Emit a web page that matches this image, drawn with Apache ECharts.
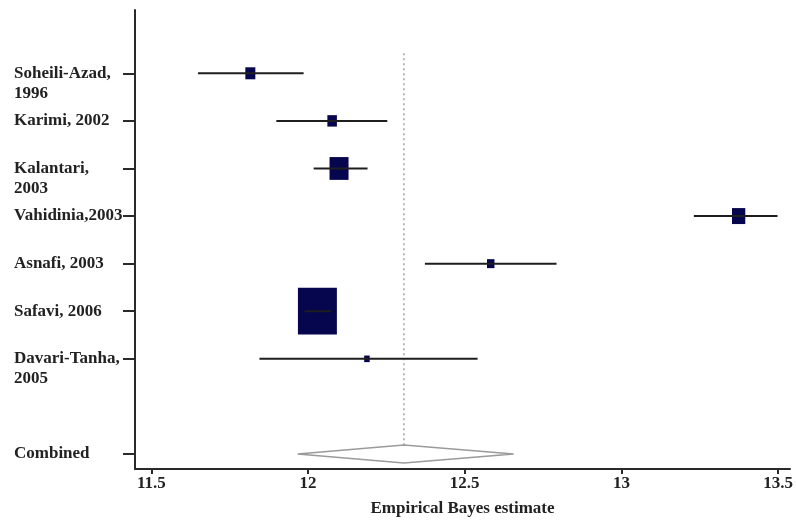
<!DOCTYPE html>
<html><head><meta charset="utf-8">
<script src="https://cdn.jsdelivr.net/npm/echarts@6/dist/echarts.min.js"></script>
<style>html,body{margin:0;padding:0;background:#fff}#c{width:796px;height:523px}</style>
</head><body><div id="c"></div>
<script>
// ---- data ----
const studies   = ['Soheili-Azad,\n1996','Karimi, 2002','Kalantari,\n2003','Vahidinia,2003','Asnafi, 2003','Safavi, 2006','Davari-Tanha,\n2005'];
const studyRows = [8, 7, 6, 5, 4, 3, 2];
const estimates = [11.816, 12.077, 12.099, 13.374, 12.583, 12.030, 12.188];
const lowerCI   = [11.649, 11.899, 12.018, 13.231, 12.373, 11.989, 11.845];
const upperCI   = [11.986, 12.253, 12.190, 13.498, 12.793, 12.073, 12.541];
const weights   = [4.3, 3.9, 15.5, 7.6, 2.4, 65.1, 1.3];
const combinedLabel = 'Combined';
const combinedRow = 0;
const combinedEstimate = 12.306;
const combinedLower = 11.967;
const combinedUpper = 12.656;
const xTicks = [11.5, 12, 12.5, 13, 13.5];
const xTitle = 'Empirical Bayes estimate';

// ---- chart ----
const FONT = 'Liberation Serif';
const rowLabels = {};
studies.forEach((s, i) => { rowLabels[studyRows[i]] = s; });
rowLabels[combinedRow] = combinedLabel;
const yTicks = Object.keys(rowLabels).map(Number);

const studyData = studies.map((s, i) => [estimates[i], lowerCI[i], upperCI[i], studyRows[i], weights[i]]);

const chart = echarts.init(document.getElementById('c'), null, {renderer: 'canvas'});
chart.setOption({
  backgroundColor: '#fff',
  animation: false,
  grid: {left: 135, right: 4, top: 10, bottom: 54, containLabel: false},
  xAxis: {
    type: 'value', min: 11.448, max: 13.538,
    splitLine: {show: false},
    axisLine: {show: true, onZero: false, lineStyle: {color: '#2a2a2a', width: 2}},
    axisTick: {show: true, customValues: xTicks, length: 5, lineStyle: {color: '#2a2a2a', width: 2}},
    axisLabel: {customValues: xTicks, margin: 6, color: '#222', fontFamily: FONT, fontWeight: 'bold', fontSize: 17},
    name: xTitle, nameLocation: 'middle', nameGap: 31, nameMoveOverlap: false,
    nameTextStyle: {color: '#222', fontFamily: FONT, fontWeight: 'bold', fontSize: 17}
  },
  yAxis: {
    type: 'value', min: -0.315, max: 9.33,
    splitLine: {show: false},
    axisLine: {show: true, onZero: false, lineStyle: {color: '#2a2a2a', width: 2}},
    axisTick: {show: true, customValues: yTicks, length: 12, lineStyle: {color: '#2a2a2a', width: 2}},
    axisLabel: {
      customValues: yTicks, margin: 121, align: 'left', verticalAlign: 'middle',
      color: '#222', fontFamily: FONT, fontWeight: 'bold', fontSize: 17, lineHeight: 20,
      formatter: v => { const t = rowLabels[v] || ''; return t.indexOf('\n') >= 0 ? ' \n' + t : t; }
    }
  },
  series: [
    {
      type: 'line', data: [[combinedEstimate, 8.42], [combinedEstimate, 0.19]],
      symbol: 'none', lineStyle: {color: '#a0a0a0', width: 1.5, type: [2, 3]}, z: 1
    },
    {
      type: 'custom', data: studyData, z: 3,
      renderItem: (params, api) => {
        const y = api.value(3);
        const pLo = api.coord([api.value(1), y]);
        const pHi = api.coord([api.value(2), y]);
        const pE = api.coord([api.value(0), y]);
        const w = 4.83 * Math.sqrt(api.value(4));
        const h = w * 1.2;
        return {type: 'group', children: [
          {type: 'rect', shape: {x: pE[0] - w / 2, y: pE[1] - h / 2, width: w, height: h}, style: {fill: '#06064e'}},
          {type: 'line', shape: {x1: pLo[0], y1: pLo[1], x2: pHi[0], y2: pHi[1]}, style: {stroke: '#1e1e1e', lineWidth: 2}}
        ]};
      }
    },
    {
      type: 'custom', data: [[combinedEstimate, combinedLower, combinedUpper, combinedRow]], z: 2,
      renderItem: (params, api) => {
        const y = api.value(3);
        const pE = api.coord([api.value(0), y]);
        const pLo = api.coord([api.value(1), y]);
        const pHi = api.coord([api.value(2), y]);
        const hh = 9;
        return {type: 'polygon', shape: {points: [[pLo[0], pLo[1]], [pE[0], pE[1] - hh], [pHi[0], pHi[1]], [pE[0], pE[1] + hh]]},
          style: {fill: '#fff', stroke: '#9a9a9a', lineWidth: 1.5}};
      }
    }
  ]
});
</script></body></html>
